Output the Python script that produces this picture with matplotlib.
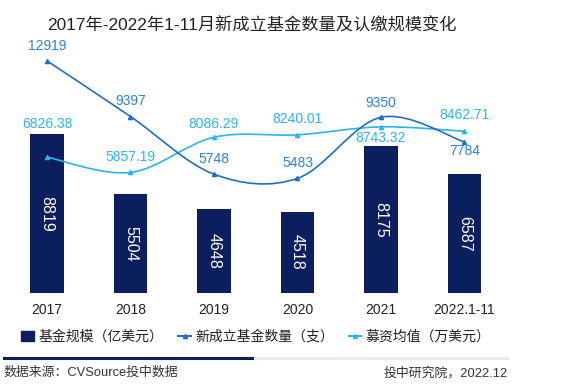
import matplotlib
import numpy as np

matplotlib.use("Agg")
import matplotlib.pyplot as plt
from matplotlib.lines import Line2D
from matplotlib.patches import Patch, PathPatch
from matplotlib.path import Path

plt.rcParams["font.family"] = ["Liberation Sans", "Noto Sans CJK SC", "DejaVu Sans"]

YEARS = ["2017", "2018", "2019", "2020", "2021", "2022.1-11"]
FUND_SIZE = [8819, 5504, 4648, 4518, 8175, 6587]          # 亿美元
FUND_COUNT = [12919, 9397, 5748, 5483, 9350, 7784]         # 支
AVG_RAISE = [6826.38, 5857.19, 8086.29, 8240.01, 8743.32, 8462.71]  # 万美元

NAVY = "#0b1f5e"
DARK_BLUE = "#1f6fc2"
LIGHT_BLUE = "#2bb4ee"

# label offsets in pixels (dy), chosen to match the layout
COUNT_DY = [15, 16, 15, 15, 14, -9]
AVG_DY = [33, 15, 13.5, 15.5, -11, 16]


def smooth_path(xs, ys):
    """Catmull-Rom style cubic Bezier through the points."""
    pts = np.column_stack([xs, ys]).astype(float)
    n = len(pts)
    verts = [pts[0]]
    codes = [Path.MOVETO]
    for i in range(n - 1):
        p0 = pts[i - 1] if i > 0 else pts[i]
        p1 = pts[i]
        p2 = pts[i + 1]
        p3 = pts[i + 2] if i + 2 < n else pts[i + 1]
        c1 = p1 + (p2 - p0) / 6.0
        c2 = p2 - (p3 - p1) / 6.0
        verts += [c1, c2, p2]
        codes += [Path.CURVE4] * 3
    return Path(verts, codes)


def main() -> None:
    fig = plt.figure(figsize=(5.84, 3.91), dpi=100)
    fig.patch.set_facecolor("white")

    W, H = 584.0, 391.0
    left, right = 5.25, 506.25
    top, bottom = 40.0, 293.0
    rect = (left / W, (H - bottom) / H, (right - left) / W, (bottom - top) / H)
    ax = fig.add_axes(rect)
    ax2 = ax.twinx()

    x = np.arange(len(YEARS))
    ax.bar(x, FUND_SIZE, width=0.4, color=NAVY, zorder=2)
    ax.set_xlim(-0.5, len(YEARS) - 0.5)
    ax.set_ylim(0, (bottom - top) / 0.018)
    for xi, v in zip(x, FUND_SIZE):
        ax.text(xi, v / 2, f"{v}", rotation=-90, ha="center", va="center",
                color="white", fontsize=11.5, zorder=3)

    # line axis: zero sits 28 px above bar baseline
    scale = 0.0158
    ax2.set_ylim(-(bottom - 265.0) / scale, (265.0 - top) / scale)

    for vals, color in ((AVG_RAISE, LIGHT_BLUE), (FUND_COUNT, DARK_BLUE)):
        path = smooth_path(x, vals)
        ax2.add_patch(PathPatch(path, facecolor="none", edgecolor=color,
                                linewidth=1.2, zorder=4))
        ax2.plot(x, vals, linestyle="none", marker="^", markersize=3,
                 color=color, zorder=5)

    for xi, v, dy in zip(x, FUND_COUNT, COUNT_DY):
        ax2.annotate(f"{v}", (xi, v), xytext=(0, dy), textcoords="offset pixels",
                     ha="center", va="center", fontsize=10, color="#2a84d2",
                     zorder=6)
    for xi, v, dy in zip(x, AVG_RAISE, AVG_DY):
        ax2.annotate(f"{v:.2f}", (xi, v), xytext=(0, dy), textcoords="offset pixels",
                     ha="center", va="center", fontsize=10, color=LIGHT_BLUE,
                     zorder=6)

    for a in (ax, ax2):
        for s in a.spines.values():
            s.set_visible(False)
        a.set_yticks([])
    ax.set_xticks(x)
    ax.set_xticklabels(YEARS, fontsize=10, color="#222222")
    ax.tick_params(axis="x", length=0, pad=7)

    fig.text(252 / W, 1 - 25 / H, "2017年-2022年1-11月新成立基金数量及认缴规模变化",
             ha="center", va="center", fontsize=12.4, color="#222222")

    handles = [
        Patch(facecolor=NAVY, edgecolor=NAVY),
        Line2D([0], [0], color=DARK_BLUE, lw=1.5, marker="^", markersize=3),
        Line2D([0], [0], color=LIGHT_BLUE, lw=1.5, marker="^", markersize=3),
    ]
    labels = ["基金规模（亿美元）", "新成立基金数量（支）", "募资均值（万美元）"]
    fig.legend(handles, labels, loc="center", bbox_to_anchor=(256 / W, 1 - 337 / H),
               ncol=3, frameon=False, fontsize=10, handlelength=0.9,
               handleheight=0.8, handletextpad=0.3, columnspacing=1.1,
               labelcolor="#222222")

    y_line = 1 - 358 / H
    fig.add_artist(Line2D([4 / W, 255 / W], [y_line, y_line], color=NAVY, lw=2.2))
    fig.add_artist(Line2D([255 / W, 507 / W], [y_line, y_line], color="#ececec", lw=2.2))

    fig.text(3 / W, 1 - 373 / H, "数据来源：CVSource投中数据", ha="left",
             va="center", fontsize=9.3, color="#333333")
    fig.text(508 / W, 1 - 373 / H, "投中研究院，2022.12", ha="right",
             va="center", fontsize=9.3, color="#333333")

    fig.savefig("out.png", dpi=100)
    plt.close(fig)


if __name__ == "__main__":
    main()
